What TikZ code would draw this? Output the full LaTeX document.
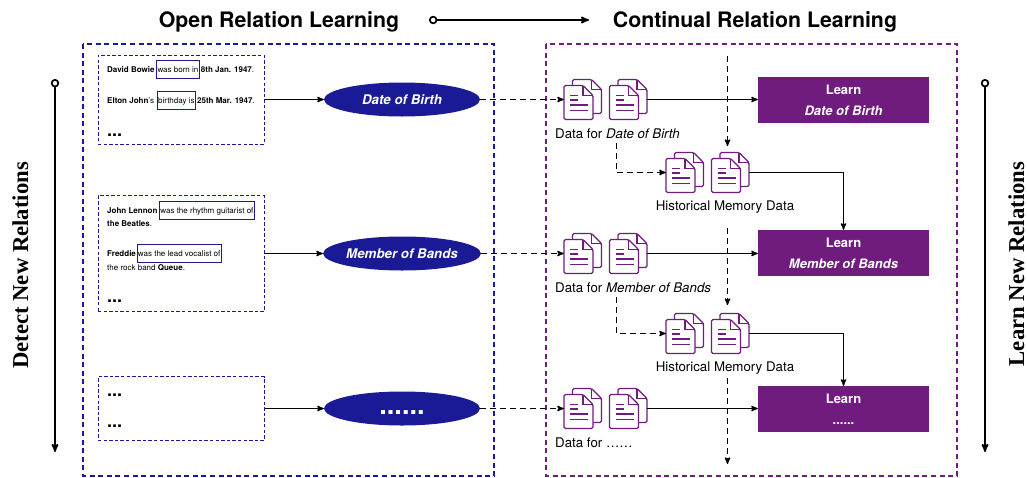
\documentclass[tikz,border=0pt]{standalone}
\usepackage{fontspec}
\setmainfont{TeX Gyre Heros}
\newfontfamily\headserif{Liberation Serif}
\usetikzlibrary{arrows,positioning,calc,shapes.geometric}
\definecolor{bandblue}{HTML}{1A1A96}
\definecolor{learnpurple}{HTML}{6F1C7E}
\newcommand{\fsize}[1]{\fontsize{#1}{#1}\selectfont}
\tikzset{
    %Define standard arrow tip
    >=stealth',
    % boxes
    title/.style={font=\fsize{21.3}\bfseries},
    sidetitle/.style={font=\fsize{22.7}\headserif\bfseries, rotate=90, anchor=base, inner sep=0pt},
    outerblue/.style={draw=bandblue, dashed, dash pattern=on 5pt off 3.6pt, line width=1.3pt},
    outerpurple/.style={draw=learnpurple, dashed, dash pattern=on 5pt off 3.6pt, line width=1.3pt},
    sentbox/.style={draw=bandblue, dashed, dash pattern=on 3.4pt off 2.2pt, line width=1pt, inner sep=0pt},
    relation/.style={ellipse, fill=bandblue, text=white, inner sep=0pt, minimum width=156pt, minimum height=34pt, font=\fsize{13.3}\bfseries\itshape},
    learn/.style={fill=learnpurple, text=white, inner sep=0pt, minimum width=171pt, minimum height=46pt, align=center, font=\fsize{13}\bfseries},
    docnode/.style={inner sep=0pt, minimum width=83pt, minimum height=40pt},
    sent/.style={inner sep=0pt, anchor=base west, font=\fsize{8}},
    rel/.style={sent, draw=bandblue, line width=0.7pt, inner xsep=1pt, text height=12pt, text depth=6pt},
    caption/.style={inner sep=0pt, font=\fsize{13.3}},
    dots/.style={inner sep=0pt, anchor=base west, font=\fsize{18}\bfseries},
    % Define arrow styles
    pil/.style={->, line width=1.3pt},
    dpil/.style={->, line width=1.3pt, dashed, dash pattern=on 6pt off 4pt},
    bigpil/.style={o->, line width=1.7pt},
    page/.pic={
        \draw[learnpurple, line width=1.3pt, fill=white, rounded corners=1.5pt] (0,0) -- (19,0) -- (29,10) -- (29,34) -- (0,34) -- cycle;
        \draw[learnpurple, line width=1.3pt] (19,0) -- (19,10) -- (29,10);
    },
    onedoc/.pic={
        \pic at (8.5,-6) {page};
        \pic at (0,0) {page};
        \draw[learnpurple, line width=1.3pt] (6,10) -- (14,10) (6,14.5) -- (14,14.5) (6,19.5) -- (24,19.5) (6,25) -- (24,25);
    },
    docpair/.pic={
        \pic at (-41.5,-14) {onedoc};
        \pic at (4,-14) {onedoc};
    }
}

\begin{document}
\begin{tikzpicture}[x=1pt,y=-1pt]
	\useasboundingbox (0,0) rectangle (1027,477);

	% titles
	\node[title](open-name) at (279,21.5){Open Relation Learning};
	\node[title](cont-name) at (755,21.5){Continual Relation Learning};
	\coordinate (top-a) at (429,20);
	\coordinate (top-b) at (589,20);
	\draw[bigpil] (top-a) -- (top-b);

	% side paths
	\node[sidetitle](detect-name) at (28,265.5){Detect New Relations};
	\node[sidetitle](learn-name) at (1024,264){Learn New Relations};
	\coordinate (detect-a) at (55,79);
	\coordinate (detect-b) at (55,452);
	\coordinate (learn-a) at (985,79);
	\coordinate (learn-b) at (985,452);
	\draw[bigpil] (detect-a) -- (detect-b);
	\draw[bigpil] (learn-a) -- (learn-b);

	% outer boxes
	\draw[outerblue] (83,44) rectangle (494,476);
	\draw[outerpurple] (546,44) rectangle (957,476);

	% left sentences
	\node[sentbox, minimum width=166pt, minimum height=89pt](sent-a) at (181,99.5){};
	\node[sentbox, minimum width=166pt, minimum height=116pt](sent-b) at (181,253.5){};
	\node[sentbox, minimum width=166pt, minimum height=64pt](sent-c) at (181,408.5){};

	\node[sent](a1) at (107,72){\bfseries David Bowie};
	\node[rel, right=1.5pt of a1.base east, anchor=base west](a2){was born in};
	\node[sent, right=1pt of a2.base east, anchor=base west](a3){\textbf{8th Jan. 1947}.};
	\node[sent](a4) at (107,103){\textbf{Elton John}'s};
	\node[rel, right=2.5pt of a4.base east, anchor=base west](a5){birthday is\hspace{1pt}};
	\node[sent, right=1pt of a5.base east, anchor=base west](a6){\textbf{25th Mar. 1947}.};
	\node[dots](a7) at (107,136){...};

	\node[sent](b1) at (107,213){\bfseries John Lennon};
	\node[rel, right=1.5pt of b1.base east, anchor=base west](b2){was the rhythm guitarist of};
	\node[sent](b3) at (107,226){\textbf{the Beatles}.};
	\node[sent](b4) at (107,256.5){\bfseries Freddie};
	\node[rel, right=0.5pt of b4.base east, anchor=base west](b5){was the lead vocalist of\hspace{3pt}};
	\node[sent](b6) at (107,270){the rock band \textbf{Queue}.};
	\node[dots](b7) at (107,302){...};

	\node[dots](c1) at (107,396){...};
	\node[dots](c2) at (107,427){...};

	% relations
	\node[relation](rel-a) at (402,99.5){Date of Birth};
	\node[relation](rel-b) at (402,253.5){Member of Bands};
	\node[relation, font=\fsize{27}\bfseries](rel-c) at (402,408.5){\raisebox{-5.5pt}[0pt][0pt]{......}};

	\draw[pil] (sent-a) -- (rel-a);
	\draw[pil] (sent-b) -- (rel-b);
	\draw[pil] (sent-c) -- (rel-c);

	% data
	\node[docnode](data-a) at (605.5,99.5){};
	\node[docnode](data-b) at (605.5,253.5){};
	\node[docnode](data-c) at (605.5,408.5){};
	\node[docnode](hist-a) at (707.5,172.5){};
	\node[docnode](hist-b) at (707.5,333.5){};
	\foreach \n in {data-a,data-b,data-c,hist-a,hist-b}
		\pic at (\n) {docpair};

	\node[caption, anchor=west](data-a-name) at (555,134){Data for \emph{Date of Birth}};
	\node[caption, anchor=west](data-b-name) at (555,288){Data for \emph{Member of Bands}};
	\node[caption, anchor=west](data-c-name) at (555,443){Data for ……};
	\node[caption](hist-a-name) at (725,207){Historical Memory Data};
	\node[caption](hist-b-name) at (725,368){Historical Memory Data};

	% learn boxes
	\node[learn](learn-box-a) at (843.5,100){Learn\\[8pt]\itshape Date of Birth};
	\node[learn](learn-box-b) at (843.5,253){Learn\\[8pt]\itshape Member of Bands};
	\node[learn](learn-box-c) at (843.5,409){Learn\\[8pt]......};

	\draw[dpil] (rel-a) -- (data-a);
	\draw[dpil] (rel-b) -- (data-b);
	\draw[dpil] (rel-c) -- (data-c);

	\draw[pil] (data-a) -- (learn-box-a.west |- data-a);
	\draw[pil] (data-b) -- (learn-box-b.west |- data-b);
	\draw[pil] (data-c) -- (learn-box-c.west |- data-c);

	% memory paths
	\coordinate (elbow-a) at (616.5,143);
	\coordinate (elbow-b) at (616.5,297);
	\draw[dpil] (elbow-a) |- (hist-a);
	\draw[dpil] (elbow-b) |- (hist-b);
	\draw[pil] (hist-a) -| (learn-box-b.north);
	\draw[pil] (hist-b) -| (learn-box-c.north);

	\coordinate (time-a) at (727.5,56);
	\coordinate (time-b) at (727.5,146);
	\coordinate (time-c) at (727.5,228);
	\coordinate (time-d) at (727.5,305);
	\coordinate (time-e) at (727.5,378);
	\coordinate (time-f) at (727.5,464);
	\draw[dpil] (time-a) -- (time-b);
	\draw[dpil] (time-c) -- (time-d);
	\draw[dpil] (time-e) -- (time-f);

\end{tikzpicture}
\end{document}
